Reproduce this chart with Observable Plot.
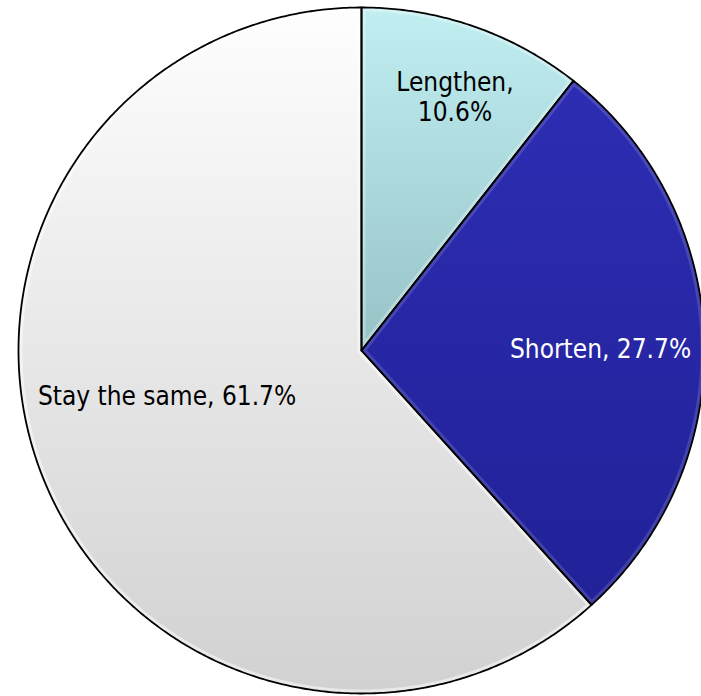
<!DOCTYPE html>
<html><head><meta charset="utf-8">
<script src="https://cdn.jsdelivr.net/npm/d3@7"></script>
<script src="https://cdn.jsdelivr.net/npm/@observablehq/plot@0.6"></script>
<style>html,body{margin:0;padding:0;background:#fff} svg{display:block}</style>
</head><body><div id="chart"></div>
<script>
// ---- data ----
const categories = ["Lengthen", "Shorten", "Stay the same"];
const shares = [10.6, 27.7, 61.7];
const labels = ["Lengthen,\n10.6%", "Shorten, 27.7%", "Stay the same, 61.7%"];

// ---- style / layout ----
const textColors = ["#000000", "#ffffff", "#000000"];
const gradTop = ["#c0eef1", "#2d2db3", "#fefefe"];
const gradBottom = ["#97c3c7", "#212198", "#d1d1d1"];
const bevelOpacity = [0.3, 0.14, 0.5];
const labelR = [0.79, 0.697, 0.582];      // fraction of radius
const labelShift = [1.1, 1.5, 8.0];       // degrees past slice mid-angle

const W = 701, H = 696, CX = 361, CY = 350, R = 343;

const arcs = d3.pie().sort(null).value(d => d)(shares);
const slices = arcs.map((p, i) => {
  const name = categories[i];
  const pts = [{name, x: 0, y: 0}];
  const n = Math.max(2, Math.ceil((p.endAngle - p.startAngle) / (Math.PI / 360)));
  for (let k = 0; k <= n; k++) {
    const a = p.startAngle + (p.endAngle - p.startAngle) * k / n;
    pts.push({name, x: Math.sin(a), y: Math.cos(a)});
  }
  pts.push({name, x: 0, y: 0});
  return pts;
});
const labelData = arcs.map((p, i) => {
  const a = (p.startAngle + p.endAngle) / 2 + labelShift[i] * Math.PI / 180;
  return {text: labels[i], x: labelR[i] * Math.sin(a), y: labelR[i] * Math.cos(a), color: textColors[i]};
});

const svg = Plot.plot({
  width: W, height: H,
  margin: 0,
  x: {domain: [-CX / R, (W - CX) / R], axis: null},
  y: {domain: [-(H - CY) / R, CY / R], axis: null},
  style: {background: "#ffffff", overflow: "hidden"},
  marks: [
    ...slices.map((pts, i) => Plot.line(pts, {
      x: "x", y: "y", fill: `url(#grad${i})`, stroke: "none", className: `slice${i}`
    })),
    ...slices.map((pts, i) => Plot.line(pts, {
      x: "x", y: "y", fill: "none", stroke: "#ffffff", strokeOpacity: bevelOpacity[i],
      strokeWidth: 8, strokeLinejoin: "round", className: `bevel${i}`
    })),
    ...slices.map((pts, i) => Plot.line(pts, {
      x: "x", y: "y", fill: "none", stroke: "#000000",
      strokeWidth: 1.8, strokeLinejoin: "round"
    })),
    Plot.text(labelData, {
      x: "x", y: "y", text: "text", fill: d => d.color,
      fontSize: 26, fontFamily: "DejaVu Sans Condensed, DejaVu Sans, sans-serif",
      textAnchor: "middle", lineAnchor: "middle", lineHeight: 1.18
    })
  ]
});

const root = d3.select(svg);
const defs = root.insert("defs", ":first-child");
categories.forEach((c, i) => {
  const g = defs.append("linearGradient").attr("id", `grad${i}`)
    .attr("x1", 0).attr("y1", 0).attr("x2", 0).attr("y2", 1);
  g.append("stop").attr("offset", 0).attr("stop-color", gradTop[i]);
  g.append("stop").attr("offset", 1).attr("stop-color", gradBottom[i]);
  const src = root.select(`.slice${i} path`);
  if (!src.empty()) {
    defs.append("clipPath").attr("id", `clip${i}`)
      .append("path").attr("d", src.attr("d"));
    root.select(`.bevel${i}`).attr("clip-path", `url(#clip${i})`);
  }
});

document.getElementById("chart").appendChild(svg);
</script>
</body></html>
